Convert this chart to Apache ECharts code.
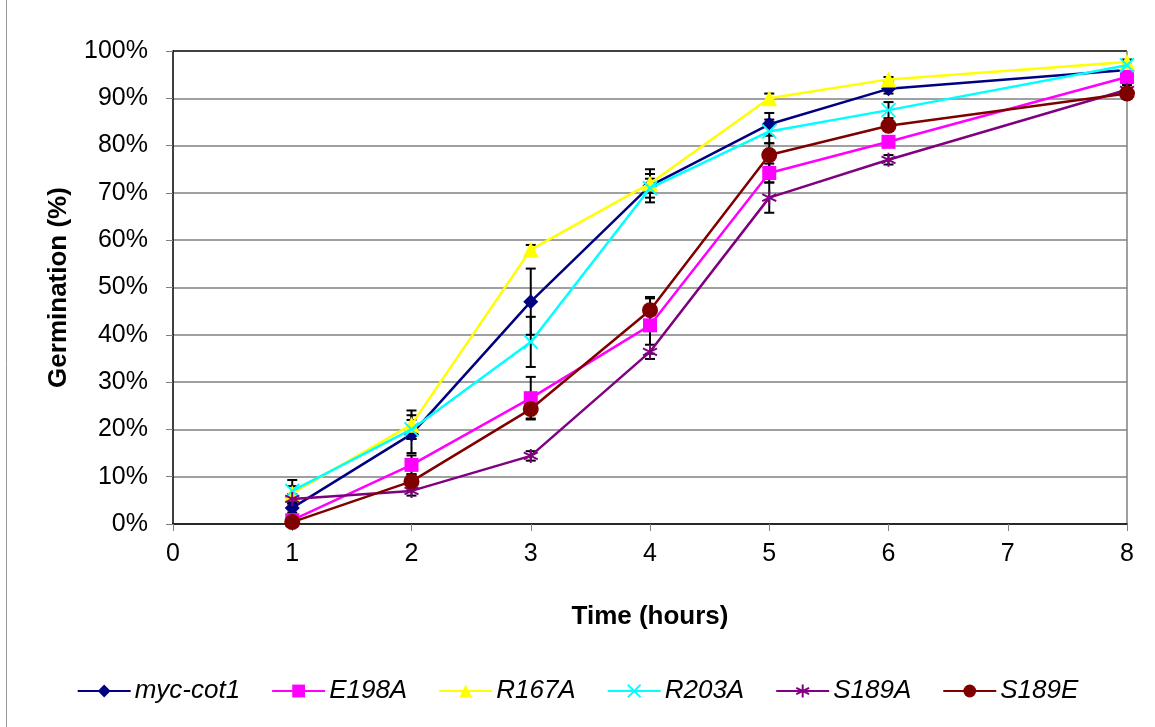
<!DOCTYPE html>
<html>
<head>
<meta charset="utf-8">
<script src="https://cdn.jsdelivr.net/npm/echarts@6/dist/echarts.min.js"></script>
<style>html,body{margin:0;padding:0;background:#fff}#c{width:1155px;height:727px}</style>
</head>
<body>
<div id="c"></div>
<script>
const times = [1, 2, 3, 4, 5, 6, 8];
const seriesNames = ['myc-cot1', 'E198A', 'R167A', 'R203A', 'S189A', 'S189E'];
const mycCot1 = [3.4, 19, 47, 71.5, 84.5, 92, 96];
const e198a = [0.8, 12.5, 26.6, 42, 74.2, 80.8, 94.5];
const r167a = [6.5, 21, 58, 72, 90, 94, 97.7];
const r203a = [7, 20, 38.5, 71, 83, 87.5, 97];
const s189a = [5.3, 7, 14.4, 36.4, 69, 77, 91.8];
const s189e = [0.4, 9, 24.3, 45.2, 78, 84.2, 91];
const errMycCot1 = [1, 4, 7, 3.5, 2.4, 1, 1];
const errE198a = [0.5, 2, 4.5, 6, 2, 1, 1];
const errR167a = [1.5, 3, 1, 2, 1, 0.5, 0.5];
const errR203a = [2.3, 2, 5.3, 2, 2.5, 1.7, 1];
const errS189a = [1, 1, 1, 1.5, 3.2, 1, 1];
const errS189e = [0.5, 1.5, 2, 2.5, 2.5, 1, 1];
const yTicks = [0, 10, 20, 30, 40, 50, 60, 70, 80, 90, 100];

const values = [mycCot1, e198a, r167a, r203a, s189a, s189e];
const errors = [errMycCot1, errE198a, errR167a, errR203a, errS189a, errS189e];
const colors = ['#000080', '#FF00FF', '#FFFF00', '#00FFFF', '#800080', '#800000'];
const symbols = ['diamond', 'rect', 'triangle',
  'path://M0,0L10,10M10,0L0,10',
  'path://M5,0L5,10M0,2.5L10,7.5M0,7.5L10,2.5',
  'circle'];
const sizes = [15, 14, 16, 14, 14, 16];
const FONT = 'Liberation Sans, Arial, sans-serif';

const series = [];
values.forEach((vals, i) => {
  const errData = times.map((t, j) => [t, vals[j], errors[i][j]]);
  series.push({
    type: 'custom',
    z: 2,
    silent: true,
    data: errData,
    renderItem: function (params, api) {
      const x = api.value(0), y = api.value(1), e = api.value(2);
      const top = api.coord([x, y + e]);
      const bot = api.coord([x, y - e]);
      const w = 5;
      const style = { stroke: '#000', lineWidth: 2 };
      return {
        type: 'group',
        children: [
          { type: 'line', shape: { x1: top[0], y1: top[1], x2: bot[0], y2: bot[1] }, style },
          { type: 'line', shape: { x1: top[0] - w, y1: top[1], x2: top[0] + w, y2: top[1] }, style },
          { type: 'line', shape: { x1: bot[0] - w, y1: bot[1], x2: bot[0] + w, y2: bot[1] }, style }
        ]
      };
    }
  });
});
values.forEach((vals, i) => {
  const isStroke = i === 3 || i === 4;
  series.push({
    name: seriesNames[i],
    type: 'line',
    z: 3 + i,
    data: times.map((t, j) => [t, vals[j]]),
    symbol: symbols[i],
    symbolSize: sizes[i],
    showAllSymbol: true,
    lineStyle: { color: colors[i], width: 2.5 },
    itemStyle: isStroke
      ? { color: colors[i], borderColor: colors[i], borderWidth: 2 }
      : { color: colors[i], borderWidth: 0 },
    emphasis: { disabled: true }
  });
});

const splitColors = yTicks.map((v, k) => k === yTicks.length - 1 ? '#000000' : '#808080');
const xSplitColors = [0,1,2,3,4,5,6,7,8].map(v => v === 8 ? '#808080' : 'rgba(0,0,0,0)');

const chart = echarts.init(document.getElementById('c'), null, { renderer: 'canvas' });
chart.setOption({
  animation: false,
  backgroundColor: '#ffffff',
  textStyle: { fontFamily: FONT },
  grid: { left: 173, right: 28, top: 51, bottom: 203, containLabel: false },
  xAxis: {
    type: 'value', min: 0, max: 8, interval: 1,
    name: 'Time (hours)', nameLocation: 'middle', nameGap: 80,
    nameTextStyle: { fontSize: 26, fontWeight: 'bold', color: '#000', fontFamily: FONT },
    axisLine: { lineStyle: { color: '#000', width: 1.5 } },
    axisTick: { show: true, length: 7, lineStyle: { color: '#808080', width: 1 } },
    axisLabel: { fontSize: 25, color: '#000', margin: 18, fontFamily: FONT },
    splitLine: { show: true, lineStyle: { color: xSplitColors, width: 1.5 } }
  },
  yAxis: {
    type: 'value', min: 0, max: 100, interval: 10,
    name: 'Germination (%)', nameLocation: 'middle', nameGap: 101, nameRotate: 90,
    nameTextStyle: { fontSize: 26, fontWeight: 'bold', color: '#000', fontFamily: FONT },
    axisLine: { show: true, lineStyle: { color: '#000', width: 1.5 } },
    axisTick: { show: true, length: 7, lineStyle: { color: '#808080', width: 1 } },
    axisLabel: { fontSize: 25, color: '#000', margin: 25, formatter: '{value}%', fontFamily: FONT },
    splitLine: { show: true, lineStyle: { color: splitColors, width: 1.5 } }
  },
  legend: {
    data: seriesNames,
    bottom: 18,
    left: 'center',
    itemWidth: 53,
    itemHeight: 16,
    itemGap: 31,
    textStyle: { fontSize: 26, fontStyle: 'italic', color: '#000', fontFamily: FONT, padding: [0, 0, 0, -1] }
  },
  graphic: [{
    type: 'line', shape: { x1: 6.5, y1: 0, x2: 6.5, y2: 727 },
    style: { stroke: '#999', lineWidth: 1 }
  }],
  series: series
});
</script>
</body>
</html>
